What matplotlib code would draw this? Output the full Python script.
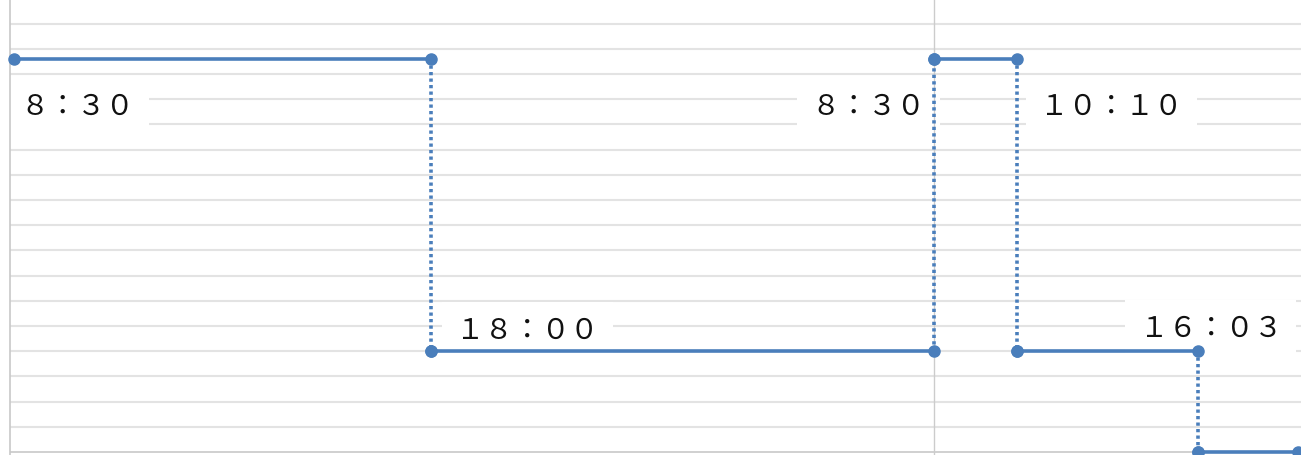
import matplotlib
matplotlib.use("Agg")
import matplotlib.pyplot as plt

plt.rcParams['font.family'] = ['Noto Sans CJK JP', 'DejaVu Sans']

# change points, in days from the left axis
t = [0.004, 0.456, 1.0, 1.09, 1.286, 1.394]
# level held between t[i] and t[i+1]
levels = [15.6, 4, 15.6, 4, 0]
labels = ['８：３０', '１８：００', '８：３０', '１０：１０', '１６：０３']

blue = '#4a7ebb'

fig = plt.figure(figsize=(13.01, 4.55), dpi=100)
ax = fig.add_axes([0, 0, 1, 1])

xmax = 1291 / 924

# horizontal segments (solid) and jumps (dotted)
for i in range(len(levels)):
    ax.plot([t[i], t[i + 1]], [levels[i], levels[i]], color=blue, lw=2.6,
            solid_capstyle='round', zorder=3)
    ax.plot([t[i], t[i + 1]], [levels[i], levels[i]], 'o', color=blue, ms=8, zorder=4)
    if i + 1 < len(levels):
        ax.plot([t[i + 1], t[i + 1]], [levels[i], levels[i + 1]], color=blue, lw=2.6,
                linestyle=(0, (0.9, 0.9)), zorder=3)
        ax.plot([t[i + 1]], [levels[i + 1]], 'o', color=blue, ms=8, zorder=4)

# time labels
box = dict(boxstyle='square,pad=0.5', fc='white', ec='none')
txt = dict(fontsize=20.5, color='#111111', va='center', ha='left', zorder=2, bbox=box)
ax.text(0.0115, 13.68, labels[0], **txt)
ax.text(0.4825, 4.80, labels[1], **txt)
ax.text(0.8676, 13.68, labels[2], **txt)
ax.text(1.1146, 13.68, labels[3], **txt)
ax.text(1.2226, 4.88, labels[4], **txt)

# grid
ax.hlines(range(1, 18), 0, xmax, color='#e3e3e3', lw=1.5, zorder=0)
ax.hlines(0, 0, xmax, color='#c8c8c8', lw=1.2, zorder=1)
ax.axvline(0, color='#c8c8c8', lw=1.2, zorder=2.5)
ax.axvline(1.0, color='#cccccc', lw=1.0, zorder=2.5)

ax.set_xlim(-10 / 924, xmax)
ax.set_ylim(-0.12, 17.94)
ax.axis('off')

fig.savefig('out.png', dpi=100, facecolor='white')
